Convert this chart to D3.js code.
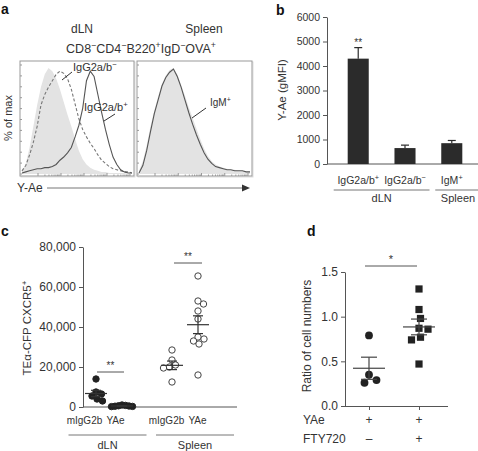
<!DOCTYPE html>
<html>
<head>
<meta charset="utf-8">
<script src="https://cdn.jsdelivr.net/npm/d3@7"></script>
<style>
  body { margin: 0; background: #fff; }
  svg { display: block; font-family: Arial, "Liberation Sans", Helvetica, sans-serif; }
</style>
</head>
<body>
<svg id="fig" width="478" height="451"></svg>
<script>
// ---- panel a: histogram heights (% of max), 30 bins across each plot
const dlnIsotype = [3,10,25,45,65,82,94,100,97,90,80,68,56,45,33,22,14,9,6,4,3,2,2,1,1,1,1,1,0,0];
const dlnNeg = [3,8,18,30,45,65,75,82,88,94,97,95,90,80,66,52,42,35,29,24,18,13,10,7,5,4,3,2,2,1];
const dlnPos = [1,2,3,4,5,5,6,6,7,9,13,16,20,25,35,46,62,88,97,92,75,58,42,28,16,9,4,2,1,1];
const splIsotype = [3,12,27,45,60,73,85,93,98,100,94,84,74,63,53,43,33,24,17,12,9,7,6,5,4,4,3,3,2,2];
const splIgM = [1,8,22,40,57,70,83,91,96,99,92,82,70,58,47,37,28,20,14,10,7,6,5,4,4,3,3,3,2,2];

// ---- panel b
const bCats = ['IgG2a/b^+', 'IgG2a/b^−', 'IgM^+'];
const bMeans = [4300, 650, 850];
const bErr = [450, 120, 110];
const bTicks = [0, 1000, 2000, 3000, 4000, 5000, 6000];

// ---- panel c
const cGroups = ['dLN', 'Spleen'];
const cTreat = ['mIgG2b', 'YAe'];
const cDlnIso = [14000, 7500, 6500, 5500, 4000, 3000];
const cDlnYAe = [1000, 800, 600, 500, 400, 300, 200];
const cSplIso = [28500, 23500, 21000, 20000, 19500, 12500];
const cSplYAe = [65500, 53000, 51500, 48000, 44000, 35000, 34000, 33000, 31500, 16000];
const cTicks = [0, 20000, 40000, 60000, 80000];

// ---- panel d
const dCats = ['noFTY', 'FTY'];
const dNoFty = [0.79, 0.35, 0.26, 0.29];
const dFty = [1.31, 1.08, 0.98, 0.87, 0.86, 0.77, 0.74, 0.47];
const dTicks = [0, 0.5, 1.0, 1.5];
const dRowYAe = ['+', '+'];
const dRowFty = ['–', '+'];

const svg = d3.select('#fig');
const ink = '#333';

// text with '^x' meaning superscript x
function rich(sel, str, size) {
  const parts = str.split(/(\^.)/).filter(s => s.length);
  let shifted = false;
  parts.forEach(p => {
    if (p[0] === '^') {
      sel.append('tspan').text(p[1]).attr('font-size', size * 0.7)
        .attr('dy', shifted ? 0 : -size * 0.38);
      shifted = true;
    } else {
      const t = sel.append('tspan').text(p).attr('font-size', size);
      if (shifted) t.attr('dy', size * 0.38);
      shifted = false;
    }
  });
  return sel;
}

function label(g, x, y, str, size, anchor, weight) {
  const t = g.append('text').attr('x', x).attr('y', y)
    .attr('font-size', size).attr('text-anchor', anchor || 'start')
    .attr('fill', ink);
  if (weight) t.attr('font-weight', weight);
  return rich(t, str, size);
}

function line(g, x1, y1, x2, y2, color, w) {
  return g.append('line').attr('x1', x1).attr('y1', y1).attr('x2', x2).attr('y2', y2)
    .attr('stroke', color || '#555').attr('stroke-width', w || 1);
}

// simple beeswarm: horizontal offsets so points keep minDist apart
function swarm(values, y, minDist) {
  const placed = [];
  const off = new Array(values.length);
  const order = values.map((v, i) => i).sort((a, b) => values[b] - values[a]);
  order.forEach(i => {
    const yy = y(values[i]);
    for (let k = 0; k < 400; k++) {
      const dx = (k % 2 ? 1 : -1) * Math.ceil(k / 2) * 0.5;
      if (placed.every(p => Math.hypot(p.dx - dx, p.y - yy) >= minDist)) {
        placed.push({dx: dx, y: yy});
        off[i] = dx;
        break;
      }
    }
  });
  return off;
}

function sem(arr) { return d3.deviation(arr) / Math.sqrt(arr.length); }

function styleAxis(g, size) {
  g.selectAll('path,line').attr('stroke', '#555');
  g.selectAll('text').attr('font-size', size).attr('fill', ink).attr('font-family', null);
  g.attr('font-size', size);
}

// ================= panel a =================
const ga = svg.append('g');
label(ga, 1, 14, 'a', 14, 'start', 'bold').attr('fill', '#111');
label(ga, 82, 33, 'dLN', 12, 'middle');
label(ga, 204, 33, 'Spleen', 12, 'middle');
label(ga, 141, 53, 'CD8^−CD4^−B220^+IgD^−OVA^+', 12.5, 'middle');

ga.append('text').attr('transform', 'translate(12,118) rotate(-90)')
  .attr('text-anchor', 'middle').attr('font-size', 11).attr('fill', ink).text('% of max');

const boxes = [
  {x0: 20, x1: 134, fill: dlnIsotype, lines: [{d: dlnNeg, dash: '3,2'}, {d: dlnPos, dash: null}]},
  {x0: 137, x1: 252, fill: splIsotype, lines: [{d: splIgM, dash: null}]}
];
const boxTop = 61, boxBot = 176;
const hy = d3.scaleLinear().domain([0, 100]).range([174, 68]);

boxes.forEach(b => {
  const hx = d3.scaleLinear().domain([0, b.fill.length - 1]).range([b.x0 + 2, b.x1 - 2]);
  ga.append('rect').attr('x', b.x0 + 1).attr('y', boxTop + 1).attr('width', b.x1 - b.x0)
    .attr('height', boxBot - boxTop).attr('fill', 'none').attr('stroke', '#ddd');
  ga.append('rect').attr('x', b.x0).attr('y', boxTop).attr('width', b.x1 - b.x0)
    .attr('height', boxBot - boxTop).attr('fill', '#fff').attr('stroke', '#999');

  ga.append('path').datum(b.fill)
    .attr('d', d3.area().x((d, i) => hx(i)).y0(hy(0)).y1(d => hy(d)))
    .attr('fill', '#e3e3e3');

  b.lines.forEach(l => {
    ga.append('path').datum(l.d)
      .attr('d', d3.line().x((d, i) => hx(i)).y(d => hy(d)))
      .attr('fill', 'none').attr('stroke', l.dash ? '#777' : '#555')
      .attr('stroke-width', 1.1).attr('stroke-dasharray', l.dash);
  });

  // small axis ticks inside the frame
  const ly = d3.scaleLinear().domain([0, 100]).range([boxBot - 2, boxTop + 4]);
  ly.ticks(10).forEach(t => line(ga, b.x0, ly(t), b.x0 + 2, ly(t), '#999'));
  const lx = d3.scaleLog().domain([10, 1e5]).range([b.x0 + 18, b.x1 - 4]);
  lx.ticks().forEach(t => {
    const major = Math.log10(t) % 1 === 0;
    line(ga, lx(t), boxBot, lx(t), boxBot - (major ? 3 : 1.5), '#999');
  });
});

// pointer labels
line(ga, 62, 80, 72, 72, '#333');
label(ga, 73, 71, 'IgG2a/b^−', 11);
line(ga, 104, 121, 115, 114, '#333');
label(ga, 84, 111, 'IgG2a/b^+', 11);
line(ga, 192, 118, 206, 108, '#333');
label(ga, 210, 106, 'IgM^+', 10);

// Y-Ae arrow
label(ga, 17, 192, 'Y-Ae', 12);
line(ga, 47, 188, 244, 188, '#777');
ga.append('path').attr('d', 'M242,184.5 L250,188 L242,191.5 Z').attr('fill', '#333');

// ================= panel b =================
const gb = svg.append('g');
label(gb, 276, 15, 'b', 14, 'start', 'bold').attr('fill', '#111');

const by = d3.scaleLinear().domain([0, 6000]).range([164, 17]);
const bx = d3.scaleBand().domain(bCats).range([336, 474]).paddingInner(0.55).paddingOuter(0.25);

gb.append('g').attr('transform', 'translate(327,0)')
  .call(d3.axisLeft(by).tickValues(bTicks).tickSize(4).tickSizeOuter(0).tickPadding(3)
    .tickFormat(d3.format('d')))
  .call(g => styleAxis(g, 10.5));
line(gb, 327, 164, 478, 164);

gb.append('text').attr('transform', 'translate(286,90) rotate(-90)')
  .attr('text-anchor', 'middle').attr('font-size', 11.5).attr('fill', ink).text('Y-Ae (gMFI)');

bCats.forEach((c, i) => {
  const cx = bx(c) + bx.bandwidth() / 2;
  gb.append('rect').attr('x', bx(c)).attr('y', by(bMeans[i]))
    .attr('width', bx.bandwidth()).attr('height', by(0) - by(bMeans[i])).attr('fill', '#2b2b2b');
  line(gb, cx, by(bMeans[i]), cx, by(bMeans[i] + bErr[i]), '#2b2b2b', 1.2);
  line(gb, cx - 4, by(bMeans[i] + bErr[i]), cx + 4, by(bMeans[i] + bErr[i]), '#2b2b2b', 1.2);
  label(gb, cx, 184, c, 10.5, 'middle');
});
label(gb, bx(bCats[0]) + bx.bandwidth() / 2, 46, '**', 10, 'middle');

const bGroupX = [[bx(bCats[0]) - 14, bx(bCats[1]) + bx.bandwidth() + 14, 'dLN'],
                 [bx(bCats[2]) - 6, 478, 'Spleen']];
bGroupX.forEach(g => {
  line(gb, g[0], 190, g[1], 190, '#777');
  label(gb, g[2] === 'Spleen' ? 458 : (g[0] + g[1]) / 2, 202, g[2], 11, 'middle');
});

// ================= panel c =================
const gc = svg.append('g');
label(gc, 1, 236, 'c', 14, 'start', 'bold').attr('fill', '#111');

const cy = d3.scaleLinear().domain([0, 80000]).range([407, 247]);
const cgx = d3.scalePoint().domain(cGroups).range([109, 185]);   // data columns
const ctx = d3.scalePoint().domain(cTreat).range([-13, 13]);
const cLabelX = d3.scalePoint().domain(cGroups).range([100, 182]); // treatment labels
const cLabelDx = d3.scalePoint().domain(cTreat).range([-15.5, 15.5]);
const cGroupLineX = d3.scalePoint().domain(cGroups).range([107.5, 195]);

gc.append('g').attr('transform', 'translate(83,0)')
  .call(d3.axisLeft(cy).tickValues(cTicks).tickSize(4).tickSizeOuter(0).tickPadding(3)
    .tickFormat(d3.format(',')))
  .call(g => styleAxis(g, 12));
line(gc, 83, 407, 237, 407);

const ctext = gc.append('text').attr('transform', 'translate(31,328) rotate(-90)')
  .attr('text-anchor', 'middle').attr('font-size', 11.5).attr('fill', ink);
rich(ctext, 'TEα-CFP CXCR5^+', 11.5);

const cSets = [
  {g: 'dLN', t: 'mIgG2b', v: cDlnIso, open: false, gap: 5.5},
  {g: 'dLN', t: 'YAe', v: cDlnYAe, open: false, gap: 3.2},
  {g: 'Spleen', t: 'mIgG2b', v: cSplIso, open: true, gap: 6},
  {g: 'Spleen', t: 'YAe', v: cSplYAe, open: true, gap: 6}
];
cSets.forEach(s => {
  const cx = cgx(s.g) + ctx(s.t);
  const off = swarm(s.v, cy, s.gap);
  gc.append('g').selectAll('circle').data(s.v).enter().append('circle')
    .attr('cx', (d, i) => cx + off[i]).attr('cy', d => cy(d)).attr('r', 3.2)
    .attr('fill', s.open ? '#fff' : '#222').attr('stroke', s.open ? '#444' : '#222')
    .attr('stroke-width', 1);
  const m = d3.mean(s.v), e = sem(s.v);
  line(gc, cx - 11, cy(m), cx + 11, cy(m), '#333', 1.2);
  line(gc, cx, cy(m - e), cx, cy(m + e), '#333', 1.2);
  line(gc, cx - 5, cy(m + e), cx + 5, cy(m + e), '#333', 1.2);
  line(gc, cx - 5, cy(m - e), cx + 5, cy(m - e), '#333', 1.2);
  label(gc, cLabelX(s.g) + cLabelDx(s.t), 423.5, s.t, 10, 'middle');
});
cGroups.forEach(g => {
  line(gc, cGroupLineX(g) - 39, 435, cGroupLineX(g) + 39, 435, '#777');
  label(gc, cGroupLineX(g), 449, g, 11, 'middle');
});
// significance
line(gc, 97, 372, 124, 372, '#555');
label(gc, 110.5, 369, '**', 10, 'middle');
line(gc, 174, 263, 202, 263, '#555');
label(gc, 188, 260, '**', 10, 'middle');

// ================= panel d =================
const gd = svg.append('g');
label(gd, 307, 236, 'd', 14, 'start', 'bold').attr('fill', '#111');

const dy = d3.scaleLinear().domain([0, 1.5]).range([406, 272]);
const dx = d3.scalePoint().domain(dCats).range([369, 419]);

gd.append('g').attr('transform', 'translate(345,0)')
  .call(d3.axisLeft(dy).tickValues(dTicks).tickSize(4).tickSizeOuter(0).tickPadding(3)
    .tickFormat(d3.format('.1f')))
  .call(g => styleAxis(g, 12));
gd.append('g').attr('transform', 'translate(0,406)')
  .call(d3.axisBottom(dx).tickSize(4).tickSizeOuter(0).tickFormat(''))
  .call(g => g.select('.domain').attr('d', 'M345,0.5H448'))
  .call(g => styleAxis(g, 12));

gd.append('text').attr('transform', 'translate(311,336) rotate(-90)')
  .attr('text-anchor', 'middle').attr('font-size', 12).attr('fill', ink).text('Ratio of cell numbers');

const dSets = [{c: 'noFTY', v: dNoFty, shape: 'circle'}, {c: 'FTY', v: dFty, shape: 'square'}];
dSets.forEach(s => {
  const cx = dx(s.c);
  const off = swarm(s.v, dy, 9);
  const pts = gd.append('g').selectAll('.p').data(s.v).enter();
  if (s.shape === 'circle') {
    pts.append('circle').attr('cx', (d, i) => cx + off[i]).attr('cy', d => dy(d))
      .attr('r', 3.9).attr('fill', '#222');
  } else {
    pts.append('rect').attr('x', (d, i) => cx + off[i] - 3.6).attr('y', d => dy(d) - 3.6)
      .attr('width', 7.2).attr('height', 7.2).attr('fill', '#222');
  }
  const m = d3.mean(s.v), e = sem(s.v);
  line(gd, cx - 16, dy(m), cx + 16, dy(m), '#444', 1.2);
  line(gd, cx, dy(m - e), cx, dy(m + e), '#444', 1.2);
  line(gd, cx - 8, dy(m + e), cx + 8, dy(m + e), '#444', 1.2);
  line(gd, cx - 8, dy(m - e), cx + 8, dy(m - e), '#444', 1.2);
});

label(gd, 303, 424, 'YAe', 12);
label(gd, 303, 443, 'FTY720', 12);
dCats.forEach((c, i) => {
  label(gd, dx(c), 424, dRowYAe[i], 12, 'middle');
  label(gd, dx(c), 443, dRowFty[i], 12, 'middle');
});
line(gd, 365, 266, 417, 266, '#555');
label(gd, 391, 263, '*', 11, 'middle');
</script>
</body>
</html>
